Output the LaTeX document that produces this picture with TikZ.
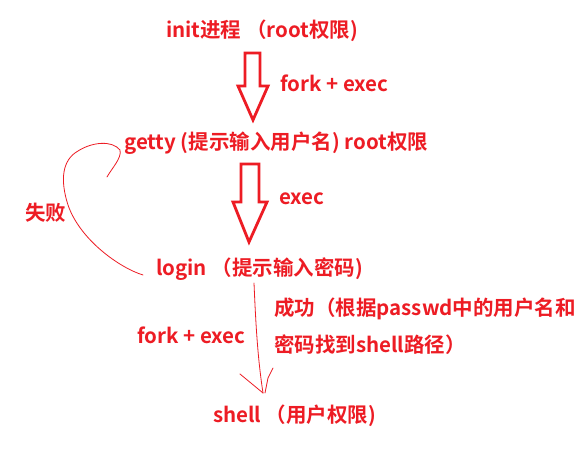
\documentclass[tikz,border=0pt]{standalone}
\usepackage{fontspec}
\setmainfont{Noto Sans CJK SC}[BoldFont={Noto Sans CJK SC Bold}]
\definecolor{pred}{RGB}{237,28,36}
\tikzset{
  lbl/.style={anchor=west, inner sep=0pt, text=pred, font=\bfseries\fontsize{20.5}{24}\selectfont},
  hollow/.style={draw=pred, line width=2.8pt, line join=miter},
  thin/.style={draw=pred, line width=0.8pt, line join=round, line cap=round}
}
\begin{document}
\begin{tikzpicture}[x=1pt,y=-1pt]
\useasboundingbox[fill=white] (0,0) rectangle (586,454);
% labels
\node[lbl] (init) at (166,31) {init进程 （root权限)};
\node[lbl] (fe1) at (280,83) {fork + exec};
\node[lbl] (getty) at (124,143) {getty (提示输入用户名) root权限};
\node[lbl] (exec) at (279,199) {exec};
\node[lbl] (fail) at (25,213) {失败};
\node[lbl] (login) at (156,269) {login （提示输入密码)};
\node[lbl] (ok1) at (274,309) {成功（根据passwd中的用户名和};
\node[lbl] (ok2) at (274,345) {密码找到shell路径）};
\node[lbl] (fe2) at (137,335) {fork + exec};
\node[lbl] (shell) at (213,416) {shell （用户权限)};
% hollow arrow 1
\draw[hollow] (245,53) -- (260,53) -- (260,86) -- (268,86) -- (253,120) -- (238,86) -- (245,86) -- cycle;
% hollow arrow 2
\draw[hollow] (241,164) -- (259,164) -- (259,202) -- (267,202) -- (249,242) -- (233,202) -- (241,202) -- cycle;
% failure loop curve
\coordinate (c0) at (143,275);
\draw[thin] (c0) .. controls (120,268) and (80,240) .. (68,205)
  .. controls (60,180) and (62,160) .. (78,151)
  .. controls (92,142) and (112,140) .. (120,150)
  .. controls (122,158) and (112,168) .. (107,177);
% thin arrow
\coordinate (t0) at (254,283);
\coordinate (t1) at (263,393);
\draw[thin] (t0) .. controls (256,330) and (258,360) .. (t1);
\draw[thin] (240,374) -- (263,393);
\draw[thin] (273,368) -- (268,378) -- (265,393);
\end{tikzpicture}
\end{document}
